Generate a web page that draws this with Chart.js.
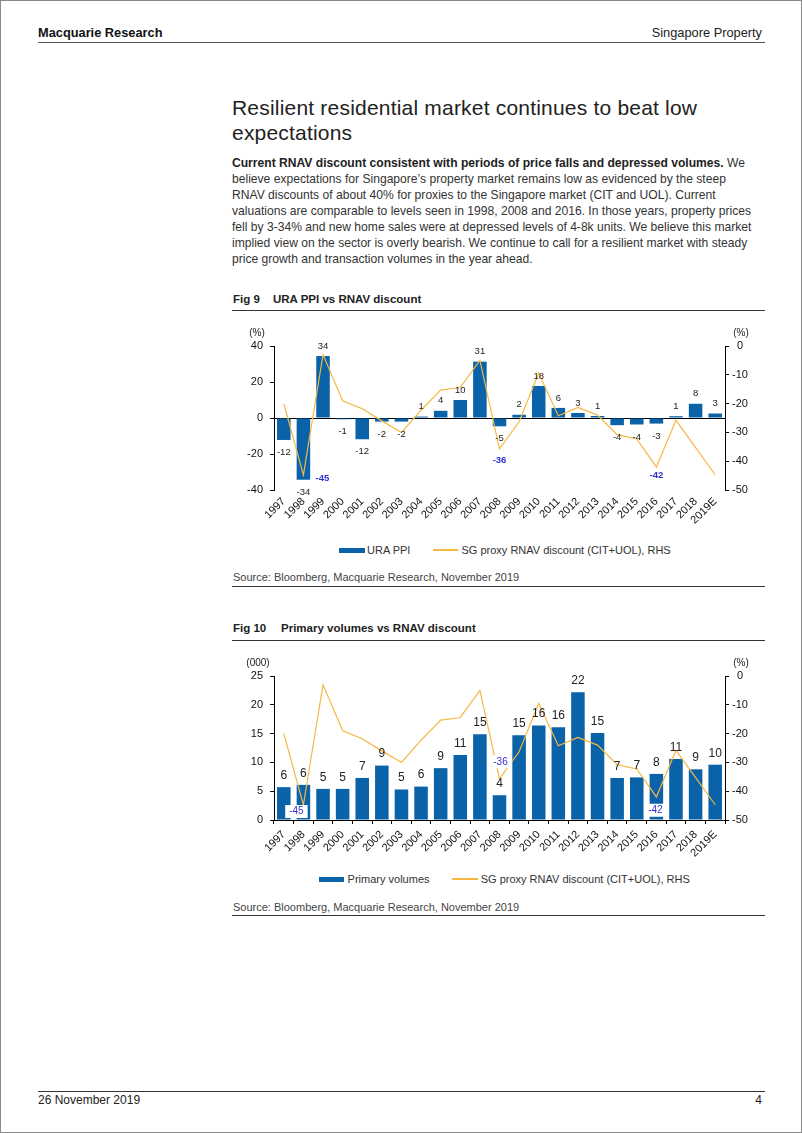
<!DOCTYPE html>
<html><head><meta charset="utf-8">
<script src="https://cdn.jsdelivr.net/npm/chart.js@4.4.0/dist/chart.umd.min.js"></script>
<style>
html,body{margin:0;padding:0;background:#fff;}
body{width:802px;height:1133px;position:relative;overflow:hidden;font-family:"Liberation Sans",Arial,Helvetica,sans-serif;color:#222;}
.frame{position:absolute;left:0;top:0;width:802px;height:1133px;box-sizing:border-box;border:1px solid #8a8a8a;}
.abs{position:absolute;white-space:nowrap;line-height:1;}
.rule{position:absolute;height:0;border-top:1px solid #333;}
.body{font-size:12.1px;color:#333;left:232px;}
.body b{color:#222;}
.fig{font-size:11.5px;font-weight:bold;color:#222;}
.src{font-size:11px;color:#444;left:233px;}
.leg{font-size:11px;color:#333;}
.lsw{position:absolute;height:1.5px;background:#f5b843;}
canvas{position:absolute;}
</style></head>
<body>
<div class="frame"></div>

<div class="abs" style="left:38px;top:26.5px;font-size:12.8px;font-weight:bold;color:#111;">Macquarie Research</div>
<div class="abs" style="right:40px;top:26.5px;font-size:12.8px;color:#222;">Singapore Property</div>
<div class="rule" style="left:38px;top:42px;width:727px;border-top:1.5px solid #555;"></div>

<div class="abs" style="left:232px;top:97.2px;font-size:21px;letter-spacing:0.2px;color:#222;">Resilient residential market continues to beat low</div>
<div class="abs" style="left:232px;top:121.5px;font-size:21px;letter-spacing:0.2px;color:#222;">expectations</div>

<div class="abs body" style="top:156.5px;"><b>Current RNAV discount consistent with periods of price falls and depressed volumes.</b> We</div>
<div class="abs body" style="top:172.6px;">believe expectations for Singapore’s property market remains low as evidenced by the steep</div>
<div class="abs body" style="top:188.7px;">RNAV discounts of about 40% for proxies to the Singapore market (CIT and UOL). Current</div>
<div class="abs body" style="top:204.8px;">valuations are comparable to levels seen in 1998, 2008 and 2016. In those years, property prices</div>
<div class="abs body" style="top:220.9px;">fell by 3-34% and new home sales were at depressed levels of 4-8k units. We believe this market</div>
<div class="abs body" style="top:237px;">implied view on the sector is overly bearish. We continue to call for a resilient market with steady</div>
<div class="abs body" style="top:253.1px;">price growth and transaction volumes in the year ahead.</div>

<div class="abs fig" style="left:233px;top:294.3px;">Fig 9</div>
<div class="abs fig" style="left:273px;top:294.3px;">URA PPI vs RNAV discount</div>
<div class="rule" style="left:232px;top:310px;width:533px;"></div>

<canvas id="c1" width="540" height="215" style="left:230px;top:320px;width:540px;height:215px;"></canvas>

<div style="position:absolute;left:339px;top:547.5px;width:26px;height:5px;background:#0a62a8;"></div>
<div class="abs leg" style="left:367px;top:544.7px;">URA PPI</div>
<div class="lsw" style="left:433px;top:549px;width:25px;"></div>
<div class="abs leg" style="left:461.5px;top:544.7px;">SG proxy RNAV discount (CIT+UOL), RHS</div>

<div class="abs src" style="top:572.3px;">Source: Bloomberg, Macquarie Research, November 2019</div>
<div class="rule" style="left:232px;top:586px;width:533px;"></div>

<div class="abs fig" style="left:233px;top:623.3px;">Fig 10</div>
<div class="abs fig" style="left:281px;top:623.3px;">Primary volumes vs RNAV discount</div>
<div class="rule" style="left:232px;top:640px;width:533px;"></div>

<canvas id="c2" width="540" height="215" style="left:230px;top:650px;width:540px;height:215px;"></canvas>

<div style="position:absolute;left:319px;top:876.5px;width:25px;height:5px;background:#0a62a8;"></div>
<div class="abs leg" style="left:347.6px;top:873.7px;">Primary volumes</div>
<div class="lsw" style="left:452px;top:878px;width:26px;"></div>
<div class="abs leg" style="left:480.7px;top:873.7px;">SG proxy RNAV discount (CIT+UOL), RHS</div>

<div class="abs src" style="top:901.7px;">Source: Bloomberg, Macquarie Research, November 2019</div>
<div class="rule" style="left:232px;top:915px;width:533px;"></div>

<div class="rule" style="left:38px;top:1090.5px;width:727px;border-top:1.5px solid #333;"></div>
<div class="abs" style="left:38px;top:1093.6px;font-size:12px;color:#222;">26 November 2019</div>
<div class="abs" style="right:40px;top:1093.6px;font-size:12px;color:#222;">4</div>

<script>
// ---------- DATA ----------
const years = ['1997','1998','1999','2000','2001','2002','2003','2004','2005','2006','2007','2008','2009','2010','2011','2012','2013','2014','2015','2016','2017','2018','2019E'];
const uraPpi = [-12.2,-34.3,34.4,-0.7,-11.8,-2,-2,0.8,4,10,31.3,-4.6,1.8,17.8,5.6,2.8,1.1,-4,-3.6,-3.1,1,7.9,2.5];
const primaryVolumes = [5.7,6.1,5.4,5.4,7.3,9.45,5.3,5.8,9.0,11.3,14.9,4.3,14.7,16.4,16.1,22.2,15.1,7.3,7.4,8.0,10.6,8.8,9.6];
const rnavDiscount = [-20,-44.8,-3,-19,-21.8,-26,-30,-22.3,-15.3,-14.4,-5,-35.7,-26.3,-9.5,-24.2,-21.3,-24,-30.8,-32.3,-42,-25.8,-35.3,-44.7];
const highlightYears = ['1998','2008','2016'];
const ppiTicks = {min:-40, max:40, step:20};
const volTicks = {min:0, max:25, step:5};
const rnavTicks = {min:-50, max:0, step:10};

// ---------- STYLE ----------
const FONT = '"Liberation Sans", Arial, Helvetica, sans-serif';
const BLUE = '#0a62a8', ORANGE = '#f5b843', HIGHLIGHT = '#3030d0';
const styles1 = {
  barFont: '9.5px ' + FONT, posOffset: 10, negOffset: 12.5,
  hlFont: 'bold 9.5px ' + FONT, hlBox: false,
  hlOffsets: {'1998': [19, 3], '2008': [0, 12], '2016': [0, 8]},
  leftTitle: '(%)', titleDx: [-17, 16], titleDy: -13
};
const styles2 = {
  barFont: '12px ' + FONT, posOffset: 11.5, negOffset: 12,
  hlFont: '10px ' + FONT, hlBox: true,
  hlOffsets: {'1998': [-7, 6.5], '2008': [1, -17], '2016': [-1, 13.3]},
  leftTitle: '(000)', titleDx: [-16, 16], titleDy: -13
};

const labelPlugin = {
  id: 'labelPlugin',
  afterDatasetsDraw(chart, args, o) {
    const s = o.s;
    const ctx = chart.ctx;
    const ds = chart.data.datasets;
    const barMeta = chart.getDatasetMeta(1);
    const lineMeta = chart.getDatasetMeta(0);
    ctx.save();
    ctx.textAlign = 'center';
    ctx.textBaseline = 'middle';
    ctx.font = s.barFont;
    ctx.fillStyle = '#222';
    barMeta.data.forEach((el, i) => {
      const v = ds[1].data[i];
      const y = v >= 0 ? el.y - s.posOffset : el.y + s.negOffset;
      ctx.fillText(String(Math.round(v)), el.x, y);
    });
    ctx.font = s.hlFont;
    highlightYears.forEach(yr => {
      const i = chart.data.labels.indexOf(yr);
      const el = lineMeta.data[i];
      const off = s.hlOffsets[yr] || [0, 10];
      const x = el.x + off[0], y = el.y + off[1];
      const txt = String(Math.round(ds[0].data[i]));
      if (s.hlBox) {
        const w = ctx.measureText(txt).width + 8;
        ctx.fillStyle = '#fff';
        ctx.fillRect(x - w / 2, y - 6.5, w, 13);
      }
      ctx.fillStyle = HIGHLIGHT;
      ctx.fillText(txt, x, y);
    });
    const ca = chart.chartArea;
    ctx.font = '10px ' + FONT;
    ctx.fillStyle = '#222';
    ctx.fillText(s.leftTitle, ca.left + s.titleDx[0], ca.top + s.titleDy);
    ctx.fillText('(%)', ca.right + s.titleDx[1], ca.top + s.titleDy);
    ctx.restore();
  }
};

function makeChart(id, barLabel, barData, leftT, s, zeroLine, xBorder) {
  const tickFont = {family: FONT, size: 11};
  return new Chart(document.getElementById(id), {
    type: 'bar',
    data: {
      labels: years,
      datasets: [
        {type: 'line', label: 'SG proxy RNAV discount (CIT+UOL), RHS', data: rnavDiscount, yAxisID: 'y1',
         borderColor: ORANGE, borderWidth: 1.2, pointRadius: 0, tension: 0, fill: false, order: 0},
        {type: 'bar', label: barLabel, data: barData, yAxisID: 'y', backgroundColor: BLUE,
         barPercentage: 0.69, categoryPercentage: 1.0, order: 1}
      ]
    },
    options: {
      responsive: false, animation: false,
      layout: {padding: {top: 26, left: 0, right: 0, bottom: 0}},
      plugins: {legend: {display: false}, tooltip: {enabled: false}, labelPlugin: {s: s}},
      scales: {
        x: {
          offset: true,
          grid: {display: xBorder, drawOnChartArea: false, drawTicks: xBorder, tickLength: 4, tickColor: '#000', offset: true},
          border: {display: xBorder, color: '#000', width: 1},
          ticks: {font: tickFont, color: '#111', maxRotation: 45, minRotation: 45, padding: xBorder ? 4 : 5, autoSkip: false},
          afterFit(sc) { sc.height = 45; }
        },
        y: {
          position: 'left', min: leftT.min, max: leftT.max,
          grid: {drawOnChartArea: zeroLine, color: ctx => (zeroLine && ctx.tick && ctx.tick.value === 0) ? '#000' : 'rgba(0,0,0,0)',
                 tickColor: '#000', tickLength: 4, lineWidth: 1},
          border: {display: true, color: '#000', width: 1},
          ticks: {stepSize: leftT.step, font: tickFont, color: '#111', padding: 7},
          afterFit(sc) { sc.width = 44; }
        },
        y1: {
          position: 'right', min: rnavTicks.min, max: rnavTicks.max,
          grid: {drawOnChartArea: false, tickColor: '#000', tickLength: 4},
          border: {display: true, color: '#000', width: 1},
          ticks: {stepSize: rnavTicks.step, font: tickFont, color: '#111', padding: 3, crossAlign: 'center'},
          afterFit(sc) { sc.width = 45; }
        }
      }
    },
    plugins: [labelPlugin]
  });
}

makeChart('c1', 'URA PPI', uraPpi, ppiTicks, styles1, true, false);
makeChart('c2', 'Primary volumes', primaryVolumes, volTicks, styles2, false, true);
</script>
</body></html>
